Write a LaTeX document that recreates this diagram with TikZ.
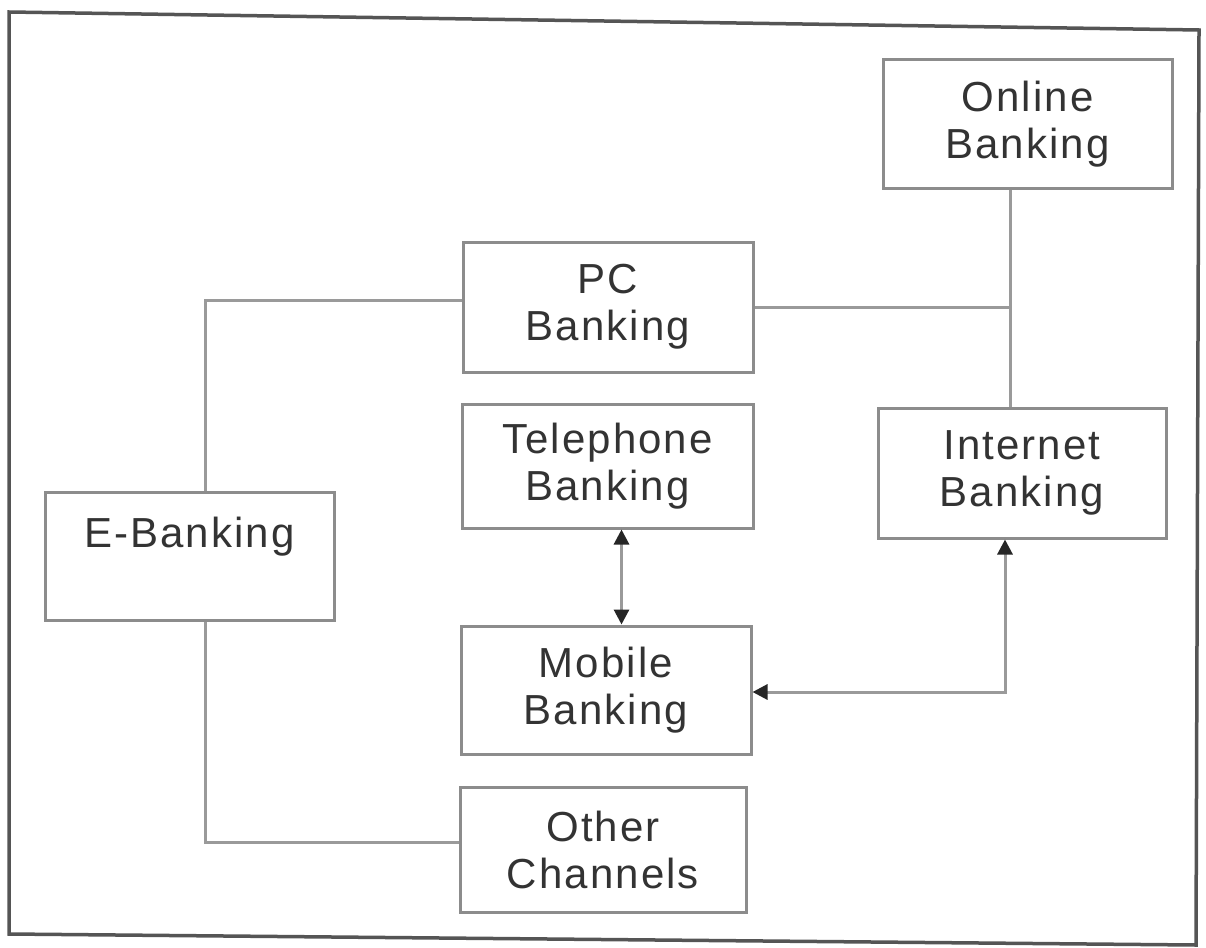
\documentclass[tikz,border=0pt]{standalone}
\usepackage{fontspec}
\setmainfont{Liberation Sans}[LetterSpace=5]
\usetikzlibrary{arrows.meta,calc}
\definecolor{txt}{HTML}{333333}
\definecolor{boxc}{HTML}{8C8C8C}
\definecolor{linec}{HTML}{9A9A9A}
\definecolor{framec}{HTML}{555555}
\definecolor{tipc}{HTML}{262626}
\begin{document}
\begin{tikzpicture}[x=1pt,y=-1pt,
  bankbox/.style={draw=boxc, line width=3pt, fill=white, align=center,
    text=txt, font=\fontsize{42}{47}\selectfont, inner sep=0pt},
  conn/.style={draw=linec, line width=3pt},
  tipboth/.style={{Triangle[length=15pt,width=15pt,color=tipc]}-{Triangle[length=15pt,width=15pt,color=tipc]}}
]
\useasboundingbox (0,0) rectangle (1206,947);
\fill[white] (0,0) rectangle (1206,947);
\draw[framec, line width=3.5pt] (9,12) -- (1199,30) -- (1196,945) -- (9,934) -- cycle;

\node[bankbox, minimum width=289pt, minimum height=128pt] (online) at (1027.5,124) {Online\\Banking};
\node[bankbox, minimum width=290pt, minimum height=130pt] (pc) at (608,307) {PC\\Banking};
\node[bankbox, minimum width=291pt, minimum height=124pt] (tel) at (607.5,466) {Telephone\\Banking};
\node[bankbox, minimum width=288pt, minimum height=130pt] (inet) at (1022,473) {Internet\\Banking};
\node[bankbox, minimum width=289pt, minimum height=128pt] (ebank) at (189.5,556) {E-Banking\\\phantom{X}};
\node[bankbox, minimum width=290pt, minimum height=128pt] (mobile) at (606,690) {Mobile\\Banking};
\node[bankbox, minimum width=286pt, minimum height=125pt] (other) at (603,849.5) {Other\\Channels};

\coordinate (jn) at ([xshift=-17pt]online.south |- pc.east);

% E-Banking to PC Banking and Other Channels
\draw[conn] ([xshift=16pt]ebank.north) |- ([yshift=7pt]pc.west);
\draw[conn] ([xshift=16pt]ebank.south) |- ([yshift=7pt]other.west);

% Online -- Internet with PC branch
\draw[conn] ([xshift=-17pt]online.south) -- ([xshift=-17pt]online.south |- inet.north);
\draw[conn] (pc.east) -- (jn);

% Telephone <-> Mobile
\draw[conn, tipboth] ([xshift=14pt]tel.south) -- ([xshift=14pt]tel.south |- mobile.north);

% Internet <-> Mobile
\draw[conn, tipboth] ([xshift=-17pt]inet.south) |- ([yshift=-2pt]mobile.east);
\end{tikzpicture}
\end{document}
